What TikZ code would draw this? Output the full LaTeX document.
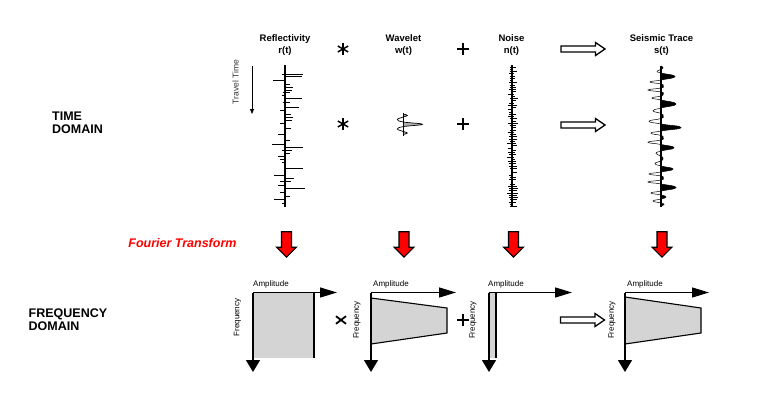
\documentclass[tikz,border=0pt]{standalone}
\usepackage{fontspec}
\setmainfont{Liberation Sans}
\usetikzlibrary{arrows.meta}
\newcommand\tracepath{plot[smooth,tension=0.95] coordinates {(661,66) (663,67.75) (661,69.5) (657,71.25) (661,73) (675,76.5) (661,80) (650,82) (661,84) (663,86) (661,88) (648,90) (661,92) (663,94) (661,96) (652,98) (661,100) (676,104) (661,108) (653,110.75) (661,113.5) (663,116) (661,118.5) (649,121.25) (661,124) (681,127.5) (661,131) (651,133.25) (661,135.5) (663,137.75) (661,140) (648,142.25) (661,144.5) (674,147.75) (661,151) (656,153.5) (661,156) (663,158.5) (661,161) (655,163.5) (661,166) (673,169) (661,172) (649,174) (661,176) (663,178) (661,180) (648,182) (661,184) (676,187.5) (661,191) (651,193) (661,195) (666,197) (661,199) (653,201) (661,203) (664,204.5) (661,206)}}
\newcommand\waveletpath{plot[smooth,tension=0.7] coordinates {(403.3,114) (407.3,115.5) (403.3,117) (397.3,119.5) (403.3,122) (422.5,124.3) (403.3,126.6) (397.3,129) (403.3,131.5) (407.3,133) (403.3,134.5)}}
\begin{document}
\begin{tikzpicture}[x=1pt,y=-1pt,
 hdr/.style={font=\fontsize{9.5}{11}\selectfont\bfseries, inner sep=0pt, anchor=base},
 dom/.style={font=\fontsize{12.5}{14}\selectfont\bfseries, inner sep=0pt, anchor=base west},
 small/.style={font=\fontsize{8}{9}\selectfont, inner sep=0pt},
 ax/.style={line width=1.3pt},
 spk/.style={line width=0.9pt},
 op/.style={line width=1.5pt},
 redarrow/.style={fill=red, draw=black, line width=1.1pt, line join=miter},
 hollow/.style={fill=white, draw=black, line width=1.3pt, line join=miter},
 panelfill/.style={fill=black!17},
 edge/.style={line width=1.1pt},
 hx/.style={ax, -{Triangle[length=17pt,width=10pt]}},
 vy/.style={ax, -{Triangle[length=12pt,width=14pt]}},
 ast/.pic={\draw[op] (0,-6)--(0,6); \draw[op] (-5.2,-3)--(5.2,3); \draw[op] (-5.2,3)--(5.2,-3);},
 plussign/.pic={\draw[line width=1.3pt] (-6,0)--(6,0) (0,-6)--(0,6);},
 timessign/.pic={\draw[line width=1.8pt] (-5,-3.8)--(5,3.8) (-5,3.8)--(5,-3.8);},
 hollowarrow/.pic={\draw[hollow] (-22,-3) -- (12.5,-3) -- (12.5,-6.5) -- (22,0) -- (12.5,6.5) -- (12.5,3) -- (-22,3) -- cycle;},
 redarrowpic/.pic={\draw[redarrow] (-5,0)--(5,0)--(5,15.5)--(10,15.5)--(0,25.5)--(-10,15.5)--(-5,15.5)--cycle;},
]
\useasboundingbox (0,0) rectangle (759,393);

% headers
\node[hdr] (h1a) at (285,41.5) {Reflectivity};
\node[hdr] (h1b) at (285,53.5) {r(t)};
\node[hdr] (h2a) at (403.5,41.5) {Wavelet};
\node[hdr] (h2b) at (403.5,53.5) {w(t)};
\node[hdr] (h3a) at (511.5,41.5) {Noise};
\node[hdr] (h3b) at (511.5,53.5) {n(t)};
\node[hdr] (h4a) at (661.5,41.5) {Seismic Trace};
\node[hdr] (h4b) at (661.5,53.5) {s(t)};

% domain labels
\node[dom] (td1) at (52,120.7) {TIME};
\node[dom] (td2) at (52,133) {DOMAIN};
\node[dom] (fd1) at (28.5,317.7) {FREQUENCY};
\node[dom] (fd2) at (28.5,330) {DOMAIN};
\node[font=\fontsize{12.5}{14}\selectfont\bfseries\itshape, text=red, inner sep=0pt, anchor=base east] (ft) at (236.7,247.3) {Fourier Transform};

% operators, time domain
\pic at (343,49) {ast};
\pic at (343,124) {ast};
\pic at (463,49) {plussign};
\pic at (463,124) {plussign};
\pic at (583,49) {hollowarrow};
\pic at (583,125) {hollowarrow};

% travel time
\node[font=\fontsize{8.5}{10}\selectfont, text=black!80, rotate=90, inner sep=0pt] (tt) at (235.5,82) {Travel Time};
\coordinate (tta) at (252,66);
\coordinate (ttb) at (252,114);
\draw[line width=0.8pt, -{Triangle[length=5pt,width=4pt]}] (tta) -- (ttb);

% reflectivity
\draw[ax] (285,65) -- (285,207);
\foreach \y/\l in {74/18.3, 74/-3.3, 76.7/16.7, 80.7/-11.7, 84/5, 87.3/7.7, 90/6.7, 92.7/5, 92.7/-2.3, 95.7/-3.3, 98.3/16.7, 102.3/5, 102.3/-1.7, 107.7/14.3, 110/-5, 114.3/5.7, 117.3/7.7, 120/6.7, 123.3/-5, 128.3/5.7, 134/-6.7, 140/5, 144/-13.3, 147.3/18.3, 150/6.7, 150/-3.3, 153.3/5, 156/-6.7, 159/-5, 162/-3.3, 168.3/18.3, 175/-11, 178.3/9, 181.7/-5, 181.7/5.7, 185.7/-6.7, 188.3/20, 192.3/-5, 196.7/5, 199.3/-11, 203.3/-3.3}
  \draw[spk] (285,\y) -- ++(\l,0);

% wavelet
\begin{scope}
  \clip (403.3,110) rectangle (430,138);
  \fill[black!30] \waveletpath -- cycle;
\end{scope}
\draw[line width=0.7pt] \waveletpath;
\draw[line width=1.1pt] (403.3,113) -- (403.3,135.5);

% noise
\pgfmathsetseed{4242}
\draw[ax] (512,65.5) -- (512,207);
\foreach \i in {0,...,62} {
  \pgfmathsetmacro\yy{67+\i*2.25}
  \pgfmathsetmacro\la{0.8+4*rnd}
  \pgfmathsetmacro\lb{1+5*rnd}
  \draw[line width=0.8pt] ({512-\la},\yy) -- ({512+\lb},\yy);
}

% seismic trace
\begin{scope}
  \clip (661,60) rectangle (700,212);
  \fill[black] \tracepath -- cycle;
\end{scope}
\draw[line width=0.5pt] \tracepath;
\draw[ax] (661,66) -- (661,207);

% red arrows
\pic at (286.5,231.7) {redarrowpic};
\pic at (404,231.7) {redarrowpic};
\pic at (513.5,231.7) {redarrowpic};
\pic at (662,231.7) {redarrowpic};

% frequency panel 1
\begin{scope}[shift={(253,292.5)}]
  \fill[panelfill] (0,0) rectangle (61,65.5);
  \draw[edge] (61,0) -- (61,65.5);
  \coordinate (p1o) at (0,0);
  \coordinate (p1x) at (84,0);
  \coordinate (p1y) at (0,79.5);
  \draw[hx] (p1o) -- (p1x);
  \draw[vy] (p1o) -- (p1y);
  \node[small, anchor=base west] (p1a) at (0,-6) {Amplitude};
  \node[small, rotate=90] (p1f) at (-15.5,25) {Frequency};
\end{scope}
\pic at (341,320) {timessign};

% frequency panel 2
\begin{scope}[shift={(371,292.5)}]
  \fill[panelfill] (0,5.5) -- (76,15.5) -- (76,40.5) -- (0,51.5) -- cycle;
  \draw[edge] (0,5.5) -- (76,15.5) -- (76,40.5) -- (0,51.5);
  \coordinate (p2o) at (0,0);
  \coordinate (p2x) at (85,0);
  \coordinate (p2y) at (0,79.5);
  \draw[hx] (p2o) -- (p2x);
  \draw[vy] (p2o) -- (p2y);
  \node[small, anchor=base west] (p2a) at (2,-6) {Amplitude};
  \node[small, rotate=90] (p2f) at (-14,27.5) {Frequency};
\end{scope}
\pic at (463,320) {plussign};

% frequency panel 3
\begin{scope}[shift={(489,292.5)}]
  \fill[panelfill] (0,0) rectangle (7,65.5);
  \draw[edge] (7,0) -- (7,65.5);
  \coordinate (p3o) at (0,0);
  \coordinate (p3x) at (83,0);
  \coordinate (p3y) at (0,79.5);
  \draw[hx] (p3o) -- (p3x);
  \draw[vy] (p3o) -- (p3y);
  \node[small, anchor=base west] (p3a) at (-1,-6) {Amplitude};
  \node[small, rotate=90] (p3f) at (-16,27.5) {Frequency};
\end{scope}
\pic at (582.5,320) {hollowarrow};

% frequency panel 4
\begin{scope}[shift={(625,292.5)}]
  \fill[panelfill] (0,4.5) -- (76,15.5) -- (76,40.5) -- (0,51.5) -- cycle;
  \draw[edge] (0,4.5) -- (76,15.5) -- (76,40.5) -- (0,51.5);
  \coordinate (p4o) at (0,0);
  \coordinate (p4x) at (84,0);
  \coordinate (p4y) at (0,79.5);
  \draw[hx] (p4o) -- (p4x);
  \draw[vy] (p4o) -- (p4y);
  \node[small, anchor=base west] (p4a) at (2,-6) {Amplitude};
  \node[small, rotate=90] (p4f) at (-13,27.5) {Frequency};
\end{scope}
\end{tikzpicture}
\end{document}
